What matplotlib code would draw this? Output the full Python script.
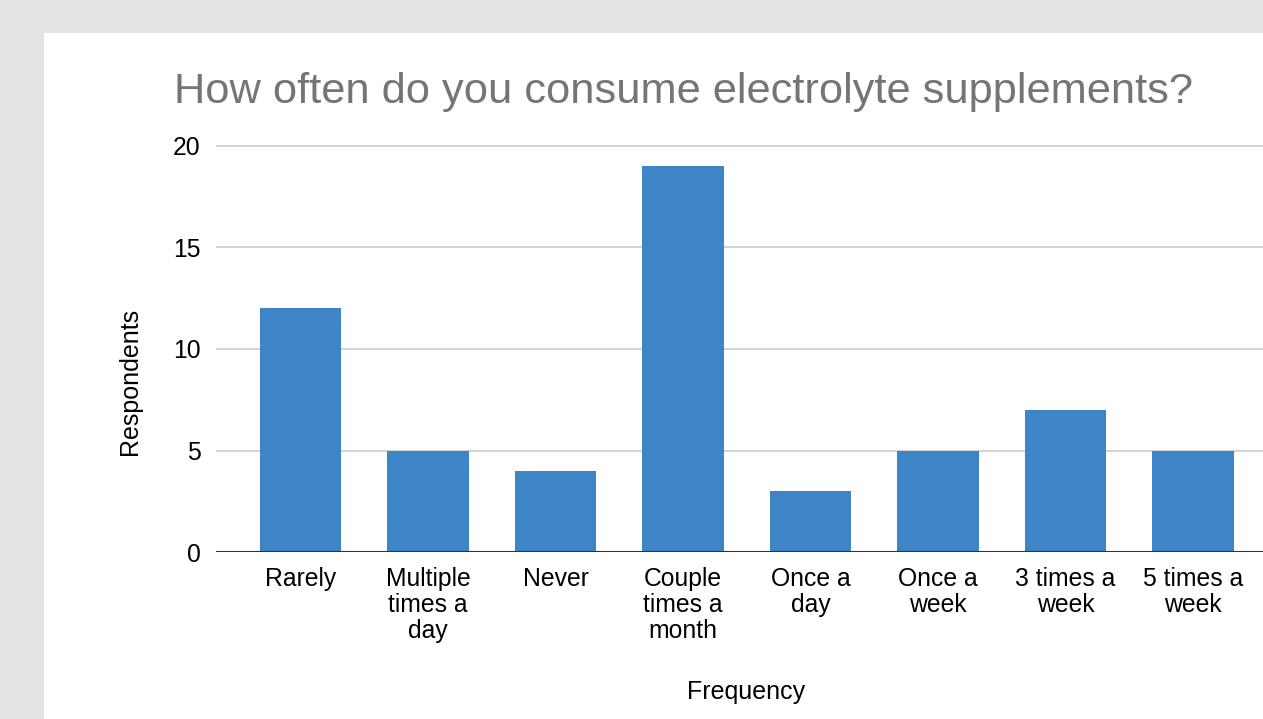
import matplotlib.pyplot as plt
import matplotlib.patches as mpatches
import numpy as np

plt.rcParams['font.family'] = ['Liberation Sans', 'DejaVu Sans']

# survey answers
categories = ["Rarely", "Multiple\ntimes a\nday", "Never", "Couple\ntimes a\nmonth",
              "Once a\nday", "Once a\nweek", "3 times a\nweek", "5 times a\nweek"]
respondents = [12, 5, 4, 19, 3, 5, 7, 5]
y_ticks = [0, 5, 10, 15, 20]

W, H = 1263, 719
fig = plt.figure(figsize=(W / 100, H / 100), dpi=100)
fig.patch.set_facecolor('#e3e3e3')

# white card
fig.patches.append(mpatches.Rectangle((44 / W, 0), 1 - 44 / W, 1 - 33 / H,
                                      transform=fig.transFigure, facecolor='white',
                                      edgecolor='none', zorder=-5))

# axes: y=0 at px 552, y=20 at px 146
px_per_unit = (552 - 146) / 20
ytop = 20.6
ax_top = 552 - ytop * px_per_unit
ax = fig.add_axes([216 / W, 1 - 552 / H, 1 - 216 / W, (552 - ax_top) / H])
ax.set_facecolor('none')
ax.set_zorder(2)

x = np.arange(len(categories))
ax.bar(x, respondents, width=0.64, color='#3d85c6', zorder=3)

ax.set_xlim(-0.663, 7.55)
ax.set_ylim(0, ytop)
ax.set_yticks(y_ticks)
ax.grid(axis='y', color='#cccccc', linewidth=1.2, zorder=0)
ax.axhline(0, color='#333333', linewidth=1.5, zorder=4)
for s in ax.spines.values():
    s.set_visible(False)

ax.set_xticks(x)
ax.set_xticklabels(categories, fontsize=17.8, linespacing=1.1, va='top')
ax.tick_params(axis='x', length=0, pad=11)
ax.tick_params(axis='y', length=0, pad=11, labelsize=17.8)

ax.set_xlabel('Frequency', fontsize=18)
ax.xaxis.set_label_coords((746 - 216) / (W - 216), -(680 - 552) / (552 - ax_top))
ax.set_ylabel('Respondents', fontsize=18)
ax.yaxis.set_label_coords(-(216 - 142) / (W - 216), (552 - 381) / (552 - ax_top))

fig.text(684 / W, 1 - 103 / H, 'How often do you consume electrolyte supplements?',
         fontsize=31.2, color='#757575', ha='center', va='baseline')

fig.savefig('out.png', dpi=100, facecolor=fig.get_facecolor())
